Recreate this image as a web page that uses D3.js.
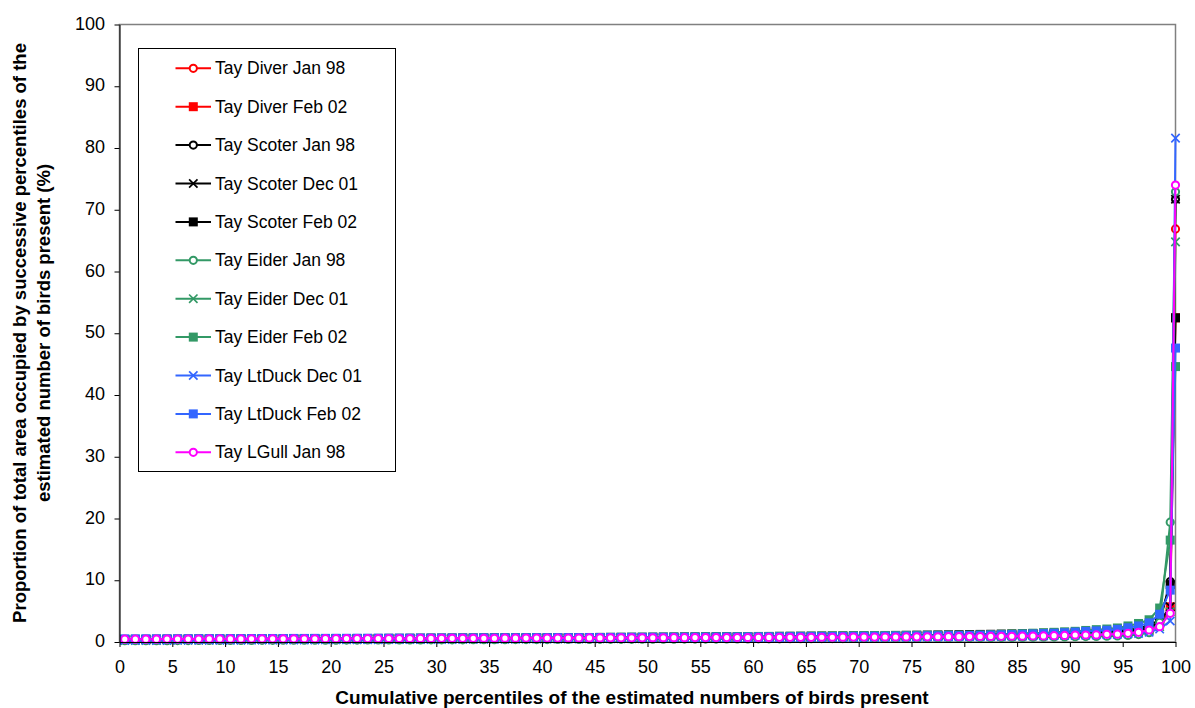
<!DOCTYPE html>
<html>
<head>
<meta charset="utf-8">
<script src="https://cdn.jsdelivr.net/npm/d3@7"></script>
<style>
  body { margin: 0; background: #ffffff; }
  svg text { font-family: Arial, "Liberation Sans", sans-serif; }
</style>
</head>
<body>
<svg id="chart" width="1195" height="708"></svg>
<script>
// Percentile midpoints along the x axis, plus the final (100th) value
const percentiles = [
  0.5, 1.5, 2.5, 3.5, 4.5, 5.5, 6.5, 7.5, 8.5, 9.5,
  10.5, 11.5, 12.5, 13.5, 14.5, 15.5, 16.5, 17.5, 18.5, 19.5,
  20.5, 21.5, 22.5, 23.5, 24.5, 25.5, 26.5, 27.5, 28.5, 29.5,
  30.5, 31.5, 32.5, 33.5, 34.5, 35.5, 36.5, 37.5, 38.5, 39.5,
  40.5, 41.5, 42.5, 43.5, 44.5, 45.5, 46.5, 47.5, 48.5, 49.5,
  50.5, 51.5, 52.5, 53.5, 54.5, 55.5, 56.5, 57.5, 58.5, 59.5,
  60.5, 61.5, 62.5, 63.5, 64.5, 65.5, 66.5, 67.5, 68.5, 69.5,
  70.5, 71.5, 72.5, 73.5, 74.5, 75.5, 76.5, 77.5, 78.5, 79.5,
  80.5, 81.5, 82.5, 83.5, 84.5, 85.5, 86.5, 87.5, 88.5, 89.5,
  90.5, 91.5, 92.5, 93.5, 94.5, 95.5, 96.5, 97.5, 98.5, 99.5,
  100
];

const xTicks = [0, 5, 10, 15, 20, 25, 30, 35, 40, 45, 50, 55, 60, 65, 70, 75, 80, 85, 90, 95, 100];
const yTicks = [0, 10, 20, 30, 40, 50, 60, 70, 80, 90, 100];

// Share of total area (%) for each successive percentile
const diverJan98 = [
  0.36, 0.37, 0.39, 0.39, 0.4, 0.42, 0.42, 0.43, 0.43, 0.44,
  0.44, 0.45, 0.45, 0.46, 0.47, 0.47, 0.48, 0.48, 0.49, 0.49,
  0.5, 0.5, 0.51, 0.52, 0.52, 0.52, 0.53, 0.54, 0.54, 0.55,
  0.55, 0.56, 0.56, 0.57, 0.58, 0.58, 0.59, 0.59, 0.6, 0.6,
  0.61, 0.62, 0.62, 0.63, 0.63, 0.64, 0.65, 0.65, 0.66, 0.67,
  0.67, 0.68, 0.69, 0.69, 0.7, 0.71, 0.72, 0.72, 0.73, 0.74,
  0.75, 0.76, 0.76, 0.77, 0.78, 0.79, 0.8, 0.81, 0.82, 0.83,
  0.84, 0.85, 0.86, 0.88, 0.89, 0.9, 0.92, 0.93, 0.95, 0.96,
  0.98, 1.0, 1.02, 1.04, 1.06, 1.09, 1.11, 1.14, 1.17, 1.2,
  1.24, 1.28, 1.33, 1.38, 1.45, 1.54, 1.68, 1.93, 2.6, 5.3,
  66.9
];
const diverFeb02 = [
  0.4, 0.41, 0.41, 0.42, 0.43, 0.43, 0.44, 0.45, 0.45, 0.46,
  0.46, 0.47, 0.48, 0.48, 0.49, 0.49, 0.5, 0.51, 0.51, 0.52,
  0.52, 0.53, 0.54, 0.54, 0.55, 0.55, 0.56, 0.57, 0.57, 0.58,
  0.58, 0.59, 0.6, 0.6, 0.61, 0.62, 0.62, 0.63, 0.64, 0.64,
  0.65, 0.66, 0.66, 0.67, 0.68, 0.69, 0.69, 0.7, 0.71, 0.72,
  0.72, 0.73, 0.74, 0.75, 0.76, 0.76, 0.77, 0.78, 0.79, 0.8,
  0.81, 0.82, 0.83, 0.84, 0.85, 0.86, 0.87, 0.88, 0.9, 0.91,
  0.92, 0.94, 0.95, 0.96, 0.98, 0.99, 1.01, 1.03, 1.04, 1.06,
  1.08, 1.1, 1.12, 1.15, 1.17, 1.2, 1.23, 1.26, 1.29, 1.33,
  1.37, 1.41, 1.46, 1.52, 1.59, 1.68, 1.82, 2.1, 2.95, 5.7,
  52.5
];
const scoterJan98 = [
  0.35, 0.36, 0.36, 0.37, 0.38, 0.38, 0.39, 0.39, 0.4, 0.41,
  0.41, 0.42, 0.42, 0.43, 0.44, 0.44, 0.45, 0.45, 0.46, 0.47,
  0.47, 0.48, 0.48, 0.49, 0.5, 0.5, 0.51, 0.51, 0.52, 0.53,
  0.53, 0.54, 0.55, 0.55, 0.56, 0.56, 0.57, 0.58, 0.58, 0.59,
  0.6, 0.6, 0.61, 0.62, 0.62, 0.63, 0.64, 0.64, 0.65, 0.66,
  0.67, 0.67, 0.68, 0.69, 0.7, 0.71, 0.71, 0.72, 0.73, 0.74,
  0.75, 0.76, 0.77, 0.78, 0.79, 0.8, 0.81, 0.82, 0.83, 0.84,
  0.86, 0.87, 0.88, 0.9, 0.91, 0.93, 0.94, 0.96, 0.98, 1.0,
  1.02, 1.04, 1.06, 1.08, 1.11, 1.13, 1.16, 1.19, 1.22, 1.26,
  1.3, 1.34, 1.39, 1.45, 1.52, 1.62, 1.78, 2.1, 3.3, 9.8,
  71.7
];
const scoterDec01 = [
  0.33, 0.34, 0.35, 0.35, 0.36, 0.37, 0.37, 0.38, 0.39, 0.39,
  0.4, 0.41, 0.41, 0.42, 0.42, 0.43, 0.44, 0.44, 0.45, 0.46,
  0.46, 0.47, 0.47, 0.48, 0.49, 0.49, 0.5, 0.51, 0.51, 0.52,
  0.53, 0.53, 0.54, 0.54, 0.55, 0.56, 0.56, 0.57, 0.58, 0.59,
  0.59, 0.6, 0.61, 0.61, 0.62, 0.63, 0.64, 0.64, 0.65, 0.66,
  0.67, 0.68, 0.68, 0.69, 0.7, 0.71, 0.72, 0.73, 0.74, 0.75,
  0.76, 0.77, 0.78, 0.79, 0.8, 0.81, 0.82, 0.83, 0.85, 0.86,
  0.87, 0.89, 0.9, 0.92, 0.93, 0.95, 0.97, 0.98, 1.0, 1.02,
  1.04, 1.06, 1.09, 1.11, 1.14, 1.17, 1.2, 1.23, 1.27, 1.31,
  1.35, 1.4, 1.46, 1.53, 1.61, 1.72, 1.9, 2.3, 3.3, 5.7,
  71.7
];
const scoterFeb02 = [
  0.42, 0.43, 0.43, 0.44, 0.45, 0.45, 0.46, 0.47, 0.47, 0.48,
  0.49, 0.49, 0.5, 0.51, 0.51, 0.52, 0.53, 0.53, 0.54, 0.55,
  0.55, 0.56, 0.57, 0.57, 0.58, 0.59, 0.59, 0.6, 0.61, 0.62,
  0.62, 0.63, 0.64, 0.64, 0.65, 0.66, 0.67, 0.67, 0.68, 0.69,
  0.7, 0.71, 0.71, 0.72, 0.73, 0.74, 0.75, 0.76, 0.77, 0.77,
  0.78, 0.79, 0.8, 0.81, 0.82, 0.83, 0.84, 0.85, 0.86, 0.87,
  0.88, 0.89, 0.91, 0.92, 0.93, 0.94, 0.96, 0.97, 0.98, 1.0,
  1.01, 1.03, 1.04, 1.06, 1.08, 1.1, 1.12, 1.14, 1.16, 1.18,
  1.2, 1.23, 1.25, 1.28, 1.31, 1.34, 1.38, 1.42, 1.46, 1.5,
  1.55, 1.6, 1.66, 1.73, 1.82, 1.95, 2.2, 2.7, 3.6, 9.3,
  52.5
];
const eiderJan98 = [
  0.2, 0.21, 0.21, 0.22, 0.22, 0.23, 0.23, 0.24, 0.24, 0.25,
  0.25, 0.26, 0.26, 0.27, 0.27, 0.28, 0.28, 0.29, 0.29, 0.3,
  0.3, 0.31, 0.31, 0.32, 0.32, 0.33, 0.33, 0.34, 0.34, 0.35,
  0.35, 0.36, 0.36, 0.37, 0.37, 0.38, 0.38, 0.39, 0.39, 0.4,
  0.4, 0.41, 0.41, 0.42, 0.42, 0.43, 0.43, 0.44, 0.44, 0.45,
  0.45, 0.46, 0.46, 0.47, 0.47, 0.48, 0.48, 0.49, 0.5, 0.5,
  0.51, 0.51, 0.52, 0.53, 0.53, 0.54, 0.55, 0.55, 0.56, 0.57,
  0.57, 0.58, 0.59, 0.6, 0.61, 0.62, 0.63, 0.64, 0.65, 0.66,
  0.67, 0.68, 0.7, 0.71, 0.73, 0.74, 0.76, 0.78, 0.8, 0.82,
  0.85, 0.88, 0.9, 0.94, 0.98, 1.05, 1.2, 1.5, 3.2, 19.4,
  72.9
];
const eiderDec01 = [
  0.3, 0.31, 0.31, 0.32, 0.33, 0.33, 0.34, 0.34, 0.35, 0.36,
  0.36, 0.37, 0.37, 0.38, 0.39, 0.39, 0.4, 0.4, 0.41, 0.42,
  0.42, 0.43, 0.43, 0.44, 0.45, 0.45, 0.46, 0.46, 0.47, 0.48,
  0.48, 0.49, 0.5, 0.5, 0.51, 0.51, 0.52, 0.53, 0.53, 0.54,
  0.55, 0.55, 0.56, 0.57, 0.57, 0.58, 0.59, 0.59, 0.6, 0.61,
  0.62, 0.62, 0.63, 0.64, 0.65, 0.65, 0.66, 0.67, 0.68, 0.69,
  0.7, 0.71, 0.71, 0.72, 0.73, 0.74, 0.75, 0.76, 0.78, 0.79,
  0.8, 0.81, 0.82, 0.84, 0.85, 0.86, 0.88, 0.89, 0.91, 0.93,
  0.94, 0.96, 0.98, 1.0, 1.03, 1.05, 1.08, 1.11, 1.14, 1.17,
  1.21, 1.25, 1.3, 1.35, 1.42, 1.5, 1.62, 1.85, 2.5, 4.9,
  64.8
];
const eiderFeb02 = [
  0.42, 0.43, 0.43, 0.44, 0.45, 0.45, 0.46, 0.46, 0.47, 0.48,
  0.48, 0.49, 0.49, 0.5, 0.51, 0.51, 0.52, 0.53, 0.53, 0.54,
  0.55, 0.55, 0.56, 0.57, 0.57, 0.58, 0.59, 0.59, 0.6, 0.61,
  0.62, 0.62, 0.63, 0.64, 0.65, 0.65, 0.66, 0.67, 0.68, 0.69,
  0.69, 0.7, 0.71, 0.72, 0.73, 0.74, 0.75, 0.76, 0.77, 0.78,
  0.79, 0.8, 0.81, 0.82, 0.83, 0.84, 0.85, 0.86, 0.88, 0.89,
  0.9, 0.91, 0.93, 0.94, 0.95, 0.97, 0.98, 1.0, 1.01, 1.03,
  1.04, 1.05, 1.06, 1.07, 1.08, 1.09, 1.1, 1.1, 1.11, 1.11,
  1.12, 1.16, 1.2, 1.25, 1.3, 1.36, 1.42, 1.5, 1.57, 1.65,
  1.73, 1.87, 2.0, 2.1, 2.27, 2.6, 3.0, 3.6, 5.5, 16.5,
  44.6
];
const ltDuckDec01 = [
  0.25, 0.26, 0.26, 0.27, 0.27, 0.28, 0.29, 0.29, 0.3, 0.3,
  0.31, 0.31, 0.32, 0.33, 0.33, 0.34, 0.34, 0.35, 0.35, 0.36,
  0.37, 0.37, 0.38, 0.38, 0.39, 0.4, 0.4, 0.41, 0.41, 0.42,
  0.43, 0.43, 0.44, 0.44, 0.45, 0.46, 0.46, 0.47, 0.48, 0.48,
  0.49, 0.5, 0.5, 0.51, 0.52, 0.52, 0.53, 0.54, 0.54, 0.55,
  0.56, 0.57, 0.57, 0.58, 0.59, 0.6, 0.6, 0.61, 0.62, 0.63,
  0.64, 0.64, 0.65, 0.66, 0.67, 0.68, 0.69, 0.7, 0.71, 0.72,
  0.73, 0.74, 0.75, 0.76, 0.77, 0.79, 0.8, 0.81, 0.83, 0.84,
  0.86, 0.87, 0.89, 0.91, 0.93, 0.95, 0.97, 0.99, 1.02, 1.05,
  1.08, 1.11, 1.15, 1.19, 1.24, 1.3, 1.4, 1.6, 2.1, 3.4,
  81.6
];
const ltDuckFeb02 = [
  0.5, 0.5, 0.51, 0.51, 0.52, 0.52, 0.53, 0.53, 0.54, 0.54,
  0.55, 0.55, 0.56, 0.56, 0.57, 0.57, 0.58, 0.58, 0.59, 0.59,
  0.6, 0.6, 0.61, 0.61, 0.62, 0.62, 0.63, 0.63, 0.64, 0.64,
  0.65, 0.65, 0.66, 0.66, 0.67, 0.67, 0.68, 0.68, 0.69, 0.7,
  0.7, 0.71, 0.71, 0.72, 0.72, 0.73, 0.74, 0.74, 0.75, 0.75,
  0.76, 0.77, 0.77, 0.78, 0.79, 0.79, 0.8, 0.81, 0.81, 0.82,
  0.83, 0.84, 0.84, 0.85, 0.86, 0.87, 0.88, 0.89, 0.9, 0.91,
  0.92, 0.93, 0.94, 0.96, 0.97, 0.98, 1.0, 1.01, 1.03, 1.04,
  1.06, 1.09, 1.12, 1.16, 1.2, 1.25, 1.3, 1.36, 1.42, 1.5,
  1.6, 1.72, 1.8, 1.9, 2.05, 2.3, 2.6, 3.1, 4.5, 8.4,
  47.6
];
const lGullJan98 = [
  0.45, 0.45, 0.46, 0.46, 0.47, 0.47, 0.48, 0.48, 0.49, 0.49,
  0.5, 0.5, 0.51, 0.51, 0.51, 0.52, 0.52, 0.53, 0.53, 0.54,
  0.54, 0.55, 0.55, 0.56, 0.56, 0.57, 0.57, 0.57, 0.58, 0.58,
  0.59, 0.59, 0.6, 0.6, 0.61, 0.61, 0.62, 0.62, 0.63, 0.63,
  0.64, 0.64, 0.65, 0.65, 0.66, 0.66, 0.67, 0.67, 0.68, 0.68,
  0.69, 0.69, 0.7, 0.7, 0.71, 0.71, 0.72, 0.72, 0.73, 0.73,
  0.74, 0.74, 0.75, 0.75, 0.76, 0.76, 0.77, 0.77, 0.78, 0.79,
  0.79, 0.8, 0.81, 0.81, 0.82, 0.83, 0.84, 0.85, 0.86, 0.87,
  0.88, 0.89, 0.9, 0.92, 0.93, 0.95, 0.97, 0.99, 1.02, 1.06,
  1.13, 1.13, 1.14, 1.25, 1.26, 1.41, 1.57, 1.94, 2.48, 4.65,
  74.0
];

const seriesNames = [
  "Tay Diver Jan 98", "Tay Diver Feb 02", "Tay Scoter Jan 98", "Tay Scoter Dec 01",
  "Tay Scoter Feb 02", "Tay Eider Jan 98", "Tay Eider Dec 01", "Tay Eider Feb 02",
  "Tay LtDuck Dec 01", "Tay LtDuck Feb 02", "Tay LGull Jan 98"
];
const seriesValues = [
  diverJan98, diverFeb02, scoterJan98, scoterDec01, scoterFeb02,
  eiderJan98, eiderDec01, eiderFeb02, ltDuckDec01, ltDuckFeb02, lGullJan98
];
const seriesColors = [
  "#ff0000", "#ff0000", "#000000", "#000000", "#000000",
  "#339966", "#339966", "#339966", "#3366ff", "#3366ff", "#ff00ff"
];
const seriesMarkers = [
  "circle", "square", "circle", "cross", "square",
  "circle", "cross", "square", "cross", "square", "circle"
];

const svg = d3.select("#chart");

const x = d3.scaleLinear().domain([0, 100]).range([119.5, 1175.5]);
const y = d3.scaleLinear().domain([0, 100]).range([642, 24.5]);

// Plot area frame (grey), axes are drawn over it in black
svg.append("rect")
  .attr("x", x(0)).attr("y", y(100))
  .attr("width", x(100) - x(0)).attr("height", y(0) - y(100))
  .attr("fill", "#ffffff").attr("stroke", "#808080").attr("stroke-width", 1.5);

// Draws one marker of the given type centred at (cx, cy)
function drawMarker(g, type, color, cx, cy) {
  if (type === "circle") {
    g.append("circle").attr("cx", cx).attr("cy", cy).attr("r", 3.6)
      .attr("fill", "#ffffff").attr("stroke", color).attr("stroke-width", 2);
  } else if (type === "square") {
    g.append("rect").attr("x", cx - 4.5).attr("y", cy - 4.5)
      .attr("width", 9).attr("height", 9).attr("fill", color);
  } else {
    const s = 4.2;
    g.append("path")
      .attr("d", `M${cx - s},${cy - s}L${cx + s},${cy + s}M${cx - s},${cy + s}L${cx + s},${cy - s}`)
      .attr("stroke", color).attr("stroke-width", 1.7).attr("fill", "none");
  }
}

const line = d3.line().x(d => x(d.p)).y(d => y(d.v));

// Series: line then markers, in legend order
const plot = svg.append("g");
seriesValues.forEach((vals, i) => {
  const pts = vals.map((v, j) => ({ p: percentiles[j], v }));
  const g = plot.append("g");
  g.append("path").datum(pts)
    .attr("d", line).attr("fill", "none")
    .attr("stroke", seriesColors[i]).attr("stroke-width", 2)
    .attr("stroke-linejoin", "round");
  pts.forEach(d => drawMarker(g, seriesMarkers[i], seriesColors[i], x(d.p), y(d.v)));
});

// Axes
const xAxis = d3.axisBottom(x).tickValues(xTicks).tickSize(5).tickSizeOuter(0).tickPadding(13);
svg.append("g")
  .attr("transform", `translate(0,${y(0)})`)
  .call(xAxis)
  .call(g => g.attr("font-family", null).attr("font-size", null))
  .call(g => g.selectAll("text").attr("font-size", "18px").attr("fill", "#000"))
  .call(g => g.selectAll("line,path").attr("stroke", "#000"));

const yAxis = d3.axisLeft(y).tickValues(yTicks).tickSize(5).tickSizeOuter(0).tickPadding(9.5);
svg.append("g")
  .attr("transform", `translate(${x(0)},0)`)
  .call(yAxis)
  .call(g => g.attr("font-family", null).attr("font-size", null))
  .call(g => g.selectAll("text").attr("font-size", "18px").attr("fill", "#000").attr("dy", "0.25em"))
  .call(g => g.selectAll("line,path").attr("stroke", "#000"));

// Axis titles
svg.append("text")
  .attr("x", 632).attr("y", 704)
  .attr("text-anchor", "middle").attr("font-weight", "bold").attr("font-size", "19px")
  .text("Cumulative percentiles of the estimated numbers of birds present");

const yTitle = [
  "Proportion of total area occupied by successive percentiles of the",
  "estimated number of birds present (%)"
];
yTitle.forEach((t, i) => {
  svg.append("text")
    .attr("transform", `translate(${26 + i * 23.5},333) rotate(-90)`)
    .attr("text-anchor", "middle").attr("font-weight", "bold").attr("font-size", "18.5px")
    .text(t);
});

// Legend
const legend = svg.append("g");
legend.append("rect")
  .attr("x", 138.5).attr("y", 48.5).attr("width", 257).attr("height", 423)
  .attr("fill", "#ffffff").attr("stroke", "#000").attr("stroke-width", 1);
seriesNames.forEach((name, i) => {
  const ly = 68.3 + i * 38.4;
  legend.append("line")
    .attr("x1", 175.5).attr("x2", 211).attr("y1", ly).attr("y2", ly)
    .attr("stroke", seriesColors[i]).attr("stroke-width", 2);
  drawMarker(legend, seriesMarkers[i], seriesColors[i], 193.3, ly);
  legend.append("text")
    .attr("x", 215).attr("y", ly).attr("dy", "0.35em")
    .attr("font-size", "17.5px").attr("fill", "#000")
    .text(name);
});
</script>
</body>
</html>
